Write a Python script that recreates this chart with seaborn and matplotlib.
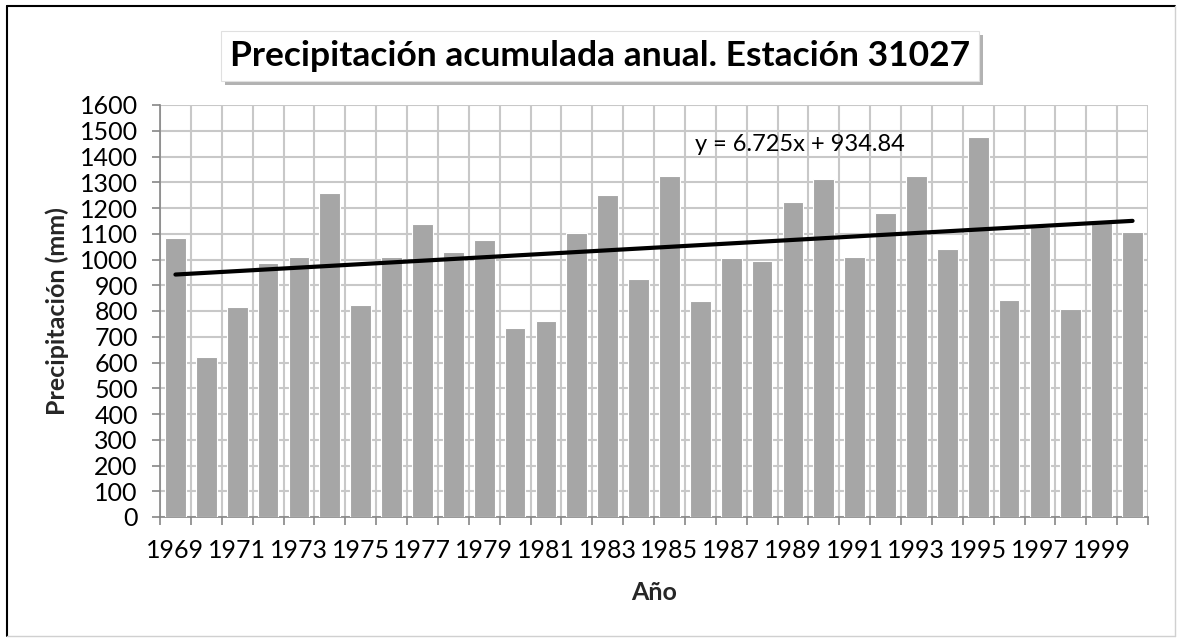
import matplotlib
matplotlib.use("Agg")
import matplotlib.pyplot as plt
import matplotlib.patheffects as pe
from matplotlib.ticker import FixedLocator, MultipleLocator
import seaborn as sns
import pandas as pd
import numpy as np

years = list(range(1969, 2001))
precip = [1085, 622, 815, 987, 1008, 1259, 825, 1010, 1137, 1028,
          1076, 733, 763, 1104, 1251, 925, 1323, 838, 1005, 995,
          1225, 1312, 1010, 1180, 1326, 1041, 1477, 842, 1125, 806,
          1140, 1107]
trend_slope = 6.725
trend_intercept = 934.84
title = "Precipitación acumulada anual. Estación 31027"
eq_label = "y = 6.725x + 934.84"

sns.set_theme(style="white")
plt.rcParams['font.family'] = ['Lato', 'DejaVu Sans']

df = pd.DataFrame({"year": [str(y) for y in years], "precip": precip})

fig = plt.figure(figsize=(11.8, 6.4), dpi=100)
ax = fig.add_axes([160/1180, 123/640, 988/1180, 412/640])

sns.barplot(data=df, x="year", y="precip", color="#A6A6A6", saturation=1,
            width=0.67, edgecolor="white", linewidth=0.8, ax=ax, zorder=3)

n = len(years)
xs = np.arange(n)
trend = trend_intercept + trend_slope * (xs + 1)
ax.plot(xs, trend, color="black", lw=3.0, solid_capstyle="round", zorder=4)

ax.set_xlim(-0.5, n - 0.5)
ax.set_ylim(0, 1600)
ax.yaxis.set_major_locator(MultipleLocator(100))
ax.set_xticks(xs)
ax.set_xticklabels([str(y) if i % 2 == 0 else "" for i, y in enumerate(years)], fontsize=18)
ax.xaxis.set_minor_locator(FixedLocator(np.arange(-0.5, n, 1.0)))
ax.tick_params(axis="x", which="major", length=0, pad=16, labelsize=18, colors="black")
ax.tick_params(axis="x", which="minor", length=6, width=1.2, color="#868686", direction="out", bottom=True)
ax.tick_params(axis="y", which="major", length=6, width=1.2, color="#868686", direction="out",
               left=True, pad=10, labelsize=18, labelcolor="black")

ax.grid(True, axis="y", which="major", color="#C8C8C8", lw=1.5, zorder=0)
ax.grid(True, axis="x", which="minor", color="#C8C8C8", lw=1.5, zorder=0)
ax.grid(False, axis="x", which="major")
ax.set_axisbelow(True)

for side in ["top", "right"]:
    ax.spines[side].set_visible(False)
for side in ["left", "bottom"]:
    ax.spines[side].set_color("#868686")
    ax.spines[side].set_linewidth(1.2)

ax.set_xlabel("Año", fontsize=18, fontweight="bold")
ax.set_ylabel("Precipitación (mm)", fontsize=18, fontweight="bold")
ax.xaxis.set_label_coords(0.5, -(593 - 517) / 412)
ax.yaxis.set_label_coords(-(160 - 57) / 988, 0.5)
ax.xaxis.label.set_va("center")
ax.yaxis.label.set_va("center")

ax.text(0.542, 0.905, eq_label, transform=ax.transAxes, fontsize=17,
        ha="left", va="center", color="black", zorder=5)

t = fig.text(600/1180, 1 - 56/640, title, fontsize=25.5, fontweight="bold",
             ha="center", va="center", color="black",
             bbox=dict(boxstyle="square,pad=0.25", fc="white", ec="#E0E0E0", lw=0.8))
t.get_bbox_patch().set_path_effects([pe.SimplePatchShadow(offset=(3, -3), alpha=0.45, shadow_rgbFace="#555555"),
                                     pe.Normal()])

# outer chart border
fig.add_artist(plt.Line2D([7/1180, 7/1180], [4/640, 1 - 6/640], transform=fig.transFigure, color="black", lw=1.5))
fig.add_artist(plt.Line2D([7/1180, 1175/1180], [1 - 6/640, 1 - 6/640], transform=fig.transFigure, color="black", lw=1.5))
fig.add_artist(plt.Line2D([7/1180, 1175/1180], [4/640, 4/640], transform=fig.transFigure, color="#D0D0D0", lw=1.0))
fig.add_artist(plt.Line2D([1175/1180, 1175/1180], [4/640, 1 - 6/640], transform=fig.transFigure, color="#D0D0D0", lw=1.0))

fig.savefig("out.png", dpi=100)
